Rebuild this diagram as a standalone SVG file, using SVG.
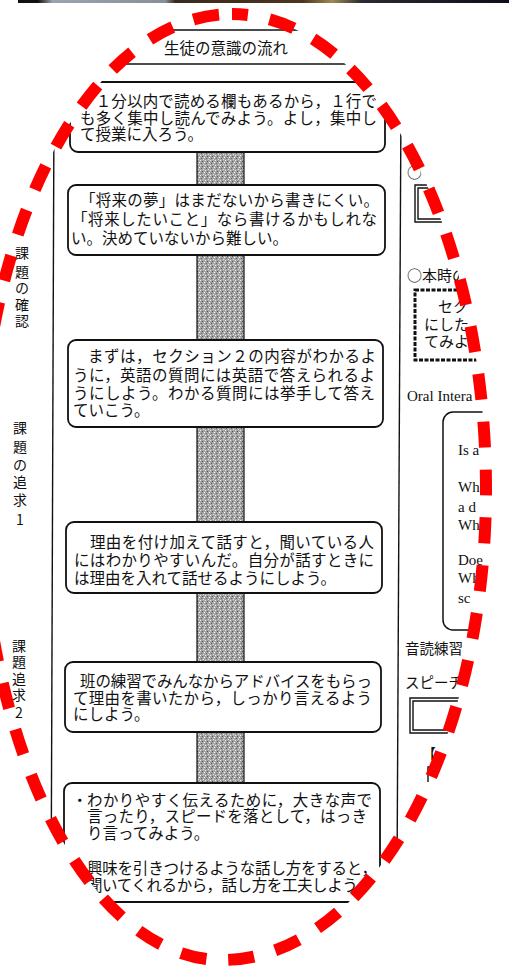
<svg xmlns="http://www.w3.org/2000/svg" width="509" height="966" viewBox="0 0 509 966">
<style>
.jp{font-family:"Noto Sans CJK JP","Noto Sans",sans-serif;font-size:15.5px;fill:#111}
.lab{font-family:"Noto Sans CJK JP","Noto Sans",sans-serif;font-size:14px;fill:#111;text-anchor:middle}
.en{font-family:"Liberation Serif","Times New Roman",serif;font-size:15px;fill:#111}
.box{fill:#fff;stroke:#111;stroke-width:1.8}
.ln{stroke:#111;stroke-width:1.4;fill:none}
.oval{fill:none;stroke:#ff0000;stroke-width:12;stroke-dasharray:26 22;stroke-dashoffset:10}
</style>
<defs>
<linearGradient id="strip" x1="0" x2="1" y1="0" y2="0">
<stop offset="0" stop-color="#111"/>
<stop offset="0.04" stop-color="#111"/>
<stop offset="0.07" stop-color="#9aa3b0"/>
<stop offset="0.3" stop-color="#8a8f98"/>
<stop offset="0.32" stop-color="#3a2a1c"/>
<stop offset="0.58" stop-color="#4a3522"/>
<stop offset="0.64" stop-color="#a08a50"/>
<stop offset="0.7" stop-color="#2a2a30"/>
<stop offset="1" stop-color="#0e0e18"/>
</linearGradient>
<pattern id="sp" width="5" height="5" patternUnits="userSpaceOnUse">
<rect width="5" height="5" fill="#a3a3a3"/>
<rect x="0" y="0" width="1" height="1" fill="#eee"/>
<rect x="2" y="1" width="1" height="1" fill="#555"/>
<rect x="4" y="2" width="1" height="1" fill="#fff"/>
<rect x="1" y="3" width="1" height="1" fill="#666"/>
<rect x="3" y="4" width="1" height="1" fill="#ddd"/>
</pattern>
<path id="ov" d="M232,14 A254,476 0 0 1 486,490 A264,470 0 0 1 222,960 A242,480 0 0 1 -20,480 A252,466 0 0 1 232,14 Z"/>
<clipPath id="clip"><use href="#ov"/></clipPath>
</defs>
<rect width="509" height="966" fill="#fff"/>
<rect x="18" y="0" width="491" height="3" fill="url(#strip)"/>
<g clip-path="url(#clip)">
<g id="frame">
<line class="ln" x1="160" y1="30" x2="303" y2="30"/>
<line class="ln" x1="113" y1="64" x2="349" y2="64"/>
<line class="ln" x1="54" y1="100" x2="51" y2="920"/>
<line class="ln" x1="401" y1="100" x2="397" y2="880"/>
</g>
<g id="title"><text class="jp" x="226" y="54" text-anchor="middle">生徒の意識の流れ</text></g>
<g id="connectors">
<rect x="197" y="150" width="47" height="634" fill="url(#sp)" stroke="#111" stroke-width="1.2"/>
</g>
<g id="box1">
<rect class="box" x="70" y="82" width="315" height="70" rx="8"/>
<text class="jp" x="80" y="107" textLength="297">　１分以内で読める欄もあるから，１行で</text>
<text class="jp" x="80" y="124" textLength="297">も多く集中し読んでみよう。よし，集中し</text>
<text class="jp" x="80" y="140">て授業に入ろう。</text>
</g>
<g id="box2">
<rect class="box" x="68" y="185" width="317" height="70" rx="8"/>
<text class="jp" x="80" y="206" textLength="299">「将来の夢」はまだないから書きにくい。</text>
<text class="jp" x="72" y="225" textLength="305">「将来したいこと」なら書けるかもしれな</text>
<text class="jp" x="71" y="244">い。決めていないから難しい。</text>
</g>
<g id="box3">
<rect class="box" x="68" y="340" width="315" height="87" rx="8"/>
<text class="jp" x="72" y="362" textLength="304">　まずは，セクション２の内容がわかるよ</text>
<text class="jp" x="73" y="381" textLength="302">うに，英語の質問には英語で答えられるよ</text>
<text class="jp" x="73" y="399" textLength="302">うにしよう。わかる質問には挙手して答え</text>
<text class="jp" x="73" y="416">ていこう。</text>
</g>
<g id="box4">
<rect class="box" x="66" y="522" width="316" height="71" rx="8"/>
<text class="jp" x="74" y="548" textLength="300">　理由を付け加えて話すと，聞いている人</text>
<text class="jp" x="74" y="566" textLength="300">にはわかりやすいんだ。自分が話すときに</text>
<text class="jp" x="74" y="584">は理由を入れて話せるようにしよう。</text>
</g>
<g id="box5">
<rect class="box" x="65" y="662" width="316" height="70" rx="8"/>
<text class="jp" x="80" y="687" textLength="292">班の練習でみんなからアドバイスをもらっ</text>
<text class="jp" x="73" y="704" textLength="299">て理由を書いたから，しっかり言えるよう</text>
<text class="jp" x="73" y="720">にしよう。</text>
</g>
<g id="box6">
<rect class="box" x="64" y="783" width="316" height="119" rx="8"/>
<text class="jp" x="72" y="806">・</text>
<text class="jp" x="87" y="806" textLength="285">わかりやすく伝えるために，大きな声で</text>
<text class="jp" x="87" y="822" textLength="280">言ったり，スピードを落として，はっき</text>
<text class="jp" x="87" y="839">り言ってみよう。</text>
<text class="jp" x="87" y="874" textLength="290">興味を引きつけるような話し方をすると，</text>
<text class="jp" x="87" y="891" textLength="285">聞いてくれるから，話し方を工夫しよう。</text>
</g>
<g id="label1">
<text class="lab"><tspan x="22" y="258">課</tspan><tspan x="22" y="277">題</tspan><tspan x="22" y="293">の</tspan><tspan x="22" y="310">確</tspan><tspan x="22" y="326">認</tspan></text>
</g>
<g id="label2">
<text class="lab"><tspan x="20" y="433">課</tspan><tspan x="20" y="452">題</tspan><tspan x="20" y="470">の</tspan><tspan x="20" y="487">追</tspan><tspan x="20" y="505">求</tspan><tspan x="20" y="525">1</tspan></text>
</g>
<g id="label3">
<text class="lab"><tspan x="19" y="651">課</tspan><tspan x="19" y="667">題</tspan><tspan x="19" y="684">追</tspan><tspan x="19" y="700">求</tspan><tspan x="19" y="718">2</tspan></text>
</g>
<g id="right">
<text class="jp" x="407" y="178" style="font-size:15px">○</text>
<path class="ln" d="M470 222 H415 V185 H470 M470 219 H418 V188 H470"/>
<text class="jp" x="407" y="281" style="font-size:15px">○本時の</text>
<rect x="415" y="290" width="90" height="70" fill="none" stroke="#111" stroke-width="3" stroke-dasharray="4 1.5"/>
<text class="jp" x="438" y="312" style="font-size:15px">セク</text>
<text class="jp" x="424" y="330" style="font-size:15px">にしたい</text>
<text class="jp" x="424" y="347" style="font-size:15px">てみよ</text>
<text class="en" x="407" y="401">Oral Intera</text>
<rect x="443" y="412" width="100" height="218" rx="10" fill="none" stroke="#111" stroke-width="1.5"/>
<text class="en" x="458" y="455">Is a</text>
<text class="en" x="458" y="492">Wh</text>
<text class="en" x="458" y="512">a d</text>
<text class="en" x="458" y="530">Wha</text>
<text class="en" x="458" y="565">Doe</text>
<text class="en" x="458" y="583">Wh</text>
<text class="en" x="458" y="603">sc</text>
<text class="jp" x="405" y="654" style="font-size:14.5px">音読練習</text>
<text class="jp" x="405" y="688" style="font-size:14.5px">スピーチ</text>
<path class="ln" d="M470 698 H410 V733 H470 M470 701 H413 V730 H470"/>
<text class="jp" x="422" y="758" style="font-size:14px">【</text>
<path class="ln" d="M437 767 H428 V782"/>
</g>
</g>
<g id="oval"><use href="#ov" class="oval"/></g>
</svg>
